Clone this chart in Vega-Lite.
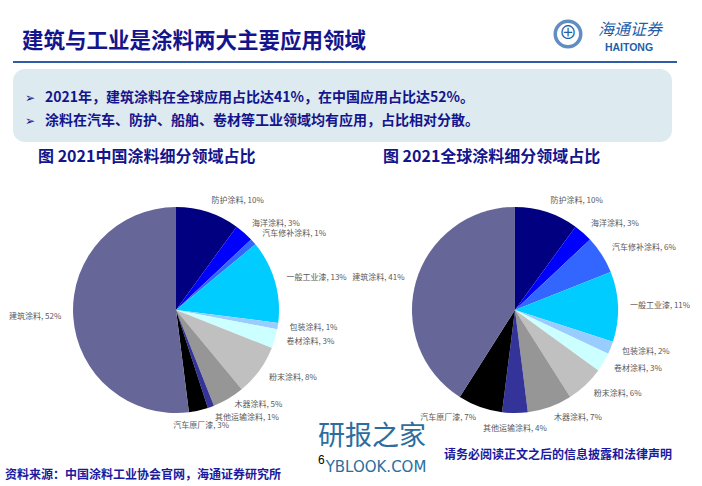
{
  "$schema": "https://vega.github.io/schema/vega-lite/v6.json",
  "background": "white",
  "padding": {"left": 5, "top": 14, "right": 5, "bottom": 2},
  "config": {
    "view": {"stroke": null},
    "font": "Noto Sans CJK SC"
  },
  "datasets": {
    "china": [
      {"name": "防护涂料", "v": 10},
      {"name": "海洋涂料", "v": 3},
      {"name": "汽车修补涂料", "v": 1},
      {"name": "一般工业漆", "v": 13},
      {"name": "包装涂料", "v": 1},
      {"name": "卷材涂料", "v": 3},
      {"name": "粉末涂料", "v": 8},
      {"name": "木器涂料", "v": 5},
      {"name": "其他运输涂料", "v": 1},
      {"name": "汽车原厂漆", "v": 3},
      {"name": "建筑涂料", "v": 52}
    ],
    "global": [
      {"name": "防护涂料", "v": 10},
      {"name": "海洋涂料", "v": 3},
      {"name": "汽车修补涂料", "v": 6},
      {"name": "一般工业漆", "v": 11},
      {"name": "包装涂料", "v": 2},
      {"name": "卷材涂料", "v": 3},
      {"name": "粉末涂料", "v": 6},
      {"name": "木器涂料", "v": 7},
      {"name": "其他运输涂料", "v": 4},
      {"name": "汽车原厂漆", "v": 7},
      {"name": "建筑涂料", "v": 41}
    ],
    "bullets": [
      {"t": "2021年，建筑涂料在全球应用占比达41%，在中国应用占比达52%。"},
      {"t": "涂料在汽车、防护、船舶、卷材等工业领域均有应用，占比相对分散。"}
    ]
  },
  "bounds": "flush",
  "spacing": 6,
  "vconcat": [
    {
      "width": 664,
      "height": 2,
      "view": {"fill": "#2E5CA8"},
      "data": {"values": [{}]},
      "layer": [
        {"mark": {"type": "text", "text": "建筑与工业是涂料两大主要应用领域", "fontSize": 21.5, "fontWeight": "bold", "fill": "#14148C", "align": "left", "baseline": "middle"}, "encoding": {"x": {"value": 9}, "y": {"value": -19}}},
        {"mark": {"type": "point", "shape": "circle", "size": 650, "filled": false, "stroke": "#1F5FA8", "strokeWidth": 3.5}, "encoding": {"x": {"value": 555}, "y": {"value": -27}}},
        {"mark": {"type": "text", "text": "⊕", "fontSize": 18, "fill": "#1F5FA8", "align": "center", "baseline": "middle"}, "encoding": {"x": {"value": 555}, "y": {"value": -27}}},
        {"mark": {"type": "text", "text": "海通证券", "fontSize": 16, "fontStyle": "italic", "fill": "#1F5FA8", "align": "center", "baseline": "middle"}, "encoding": {"x": {"value": 617}, "y": {"value": -31}}},
        {"mark": {"type": "text", "text": "HAITONG", "font": "Liberation Sans", "fontWeight": "bold", "fontSize": 10.5, "fill": "#1F5FA8", "align": "center", "baseline": "middle"}, "encoding": {"x": {"value": 616}, "y": {"value": -13}}}
      ]
    },
    {
      "width": 659,
      "height": 73,
      "view": {"fill": "#DDEBF0", "cornerRadius": 12},
      "data": {"name": "bullets"},
      "encoding": {"y": {"field": "t", "type": "nominal", "sort": null, "axis": null, "scale": {"range": [17, 63]}}},
      "layer": [
        {"mark": {"type": "text", "text": "➢", "font": "DejaVu Sans", "fontSize": 12, "fill": "#14148C", "align": "left", "baseline": "middle"}, "encoding": {"x": {"value": 12}}},
        {"mark": {"type": "text", "fontSize": 14, "fontWeight": "bold", "fill": "#14148C", "align": "left", "baseline": "middle"}, "encoding": {"x": {"value": 32}, "text": {"field": "t"}}}
      ]
    },
    {
      "width": 665,
      "height": 324,
      "layer": [
        {
          "data": {"name": "china"},
          "transform": [{"window": [{"op": "row_number", "as": "i"}]}],
          "encoding": {
            "x": {"datum": "中国", "type": "nominal", "axis": null, "scale": {"type": "point", "domain": ["中国", "全球"], "padding": 0.481}},
            "theta": {"field": "v", "type": "quantitative", "stack": true},
            "order": {"field": "i", "type": "quantitative"},
            "color": {"field": "name", "type": "nominal", "legend": null,
              "scale": {"domain": ["防护涂料", "海洋涂料", "汽车修补涂料", "一般工业漆", "包装涂料", "卷材涂料", "粉末涂料", "木器涂料", "其他运输涂料", "汽车原厂漆", "建筑涂料"],
                        "range": ["#000080", "#0000FF", "#3366FF", "#00CCFF", "#99CCFF", "#CCFFFF", "#C0C0C0", "#969696", "#333399", "#000000", "#666699"]}}
          },
          "layer": [
            {"mark": {"type": "arc", "outerRadius": 103}},
            {"mark": {"type": "text", "radius": 115, "fontSize": 8,
                      "baseline": {"expr": "cos(PI*(datum.v_start+datum.v_end)/100) < -0.95 ? 'top' : (cos(PI*(datum.v_start+datum.v_end)/100) < -0.9 ? 'middle' : (cos(PI*(datum.v_start+datum.v_end)/100) < -0.8 ? 'bottom' : 'middle'))"},
                      "align": {"expr": "sin(PI*(datum.v_start+datum.v_end)/100) > 0.25 ? 'left' : (sin(PI*(datum.v_start+datum.v_end)/100) < -0.25 ? 'right' : 'center')"},
                      "text": {"expr": "datum.name + ', ' + datum.v + '%'"}},
             "encoding": {"color": {"value": "#595959"}, "detail": {"field": "name", "type": "nominal"}}}
          ]
        },
        {
          "data": {"name": "global"},
          "transform": [{"window": [{"op": "row_number", "as": "i"}]}],
          "encoding": {
            "x": {"datum": "全球", "type": "nominal", "axis": null, "scale": {"type": "point", "domain": ["中国", "全球"], "padding": 0.481}},
            "theta": {"field": "v", "type": "quantitative", "stack": true},
            "order": {"field": "i", "type": "quantitative"},
            "color": {"field": "name", "type": "nominal", "legend": null}
          },
          "layer": [
            {"mark": {"type": "arc", "outerRadius": 103}},
            {"mark": {"type": "text", "radius": 115, "fontSize": 8,
                      "baseline": {"expr": "cos(PI*(datum.v_start+datum.v_end)/100) < -0.95 ? 'top' : (cos(PI*(datum.v_start+datum.v_end)/100) < -0.9 ? 'middle' : (cos(PI*(datum.v_start+datum.v_end)/100) < -0.8 ? 'bottom' : 'middle'))"},
                      "align": {"expr": "sin(PI*(datum.v_start+datum.v_end)/100) > 0.25 ? 'left' : (sin(PI*(datum.v_start+datum.v_end)/100) < -0.25 ? 'right' : 'center')"},
                      "text": {"expr": "datum.name + ', ' + datum.v + '%'"}},
             "encoding": {"color": {"value": "#595959"}, "detail": {"field": "name", "type": "nominal"}}}
          ]
        },
        {
          "data": {"values": [{"r": "中国", "t": "图 2021中国涂料细分领域占比"}, {"r": "全球", "t": "图 2021全球涂料细分领域占比"}]},
          "mark": {"type": "text", "fontSize": 16, "fontWeight": "bold", "fill": "#14148C", "align": "left", "baseline": "middle",
                   "dx": {"expr": "datum.r == '中国' ? -138 : -132"}},
          "encoding": {
            "x": {"field": "r", "type": "nominal", "axis": null},
            "y": {"value": 9},
            "text": {"field": "t"}
          }
        }
      ]
    },
    {
      "width": 659,
      "height": 1,
      "data": {"values": [{}]},
      "layer": [
        {"mark": {"type": "text", "text": "研报之家", "fontSize": 27, "fill": "#2B6E9E", "align": "center", "baseline": "middle"}, "encoding": {"x": {"value": 359}, "y": {"value": -41}}},
        {"mark": {"type": "text", "text": "YBLOOK.COM", "font": "DejaVu Sans", "fontSize": 15, "fill": "#2B6E9E", "align": "center", "baseline": "middle"}, "encoding": {"x": {"value": 363}, "y": {"value": -11}}},
        {"mark": {"type": "text", "text": "6", "font": "Liberation Sans", "fontSize": 12, "fill": "#000000", "align": "left", "baseline": "middle"}, "encoding": {"x": {"value": 305}, "y": {"value": -18}}},
        {"mark": {"type": "text", "text": "资料来源：中国涂料工业协会官网，海通证券研究所", "fontSize": 12, "fontWeight": "bold", "fill": "#1A1AA0", "align": "left", "baseline": "middle"}, "encoding": {"x": {"value": -8}, "y": {"value": -3}}},
        {"mark": {"type": "text", "text": "请务必阅读正文之后的信息披露和法律声明", "fontSize": 12, "fontWeight": "bold", "fill": "#1A1AA0", "align": "right", "baseline": "middle"}, "encoding": {"x": {"value": 659}, "y": {"value": -23}}}
      ]
    }
  ]
}
